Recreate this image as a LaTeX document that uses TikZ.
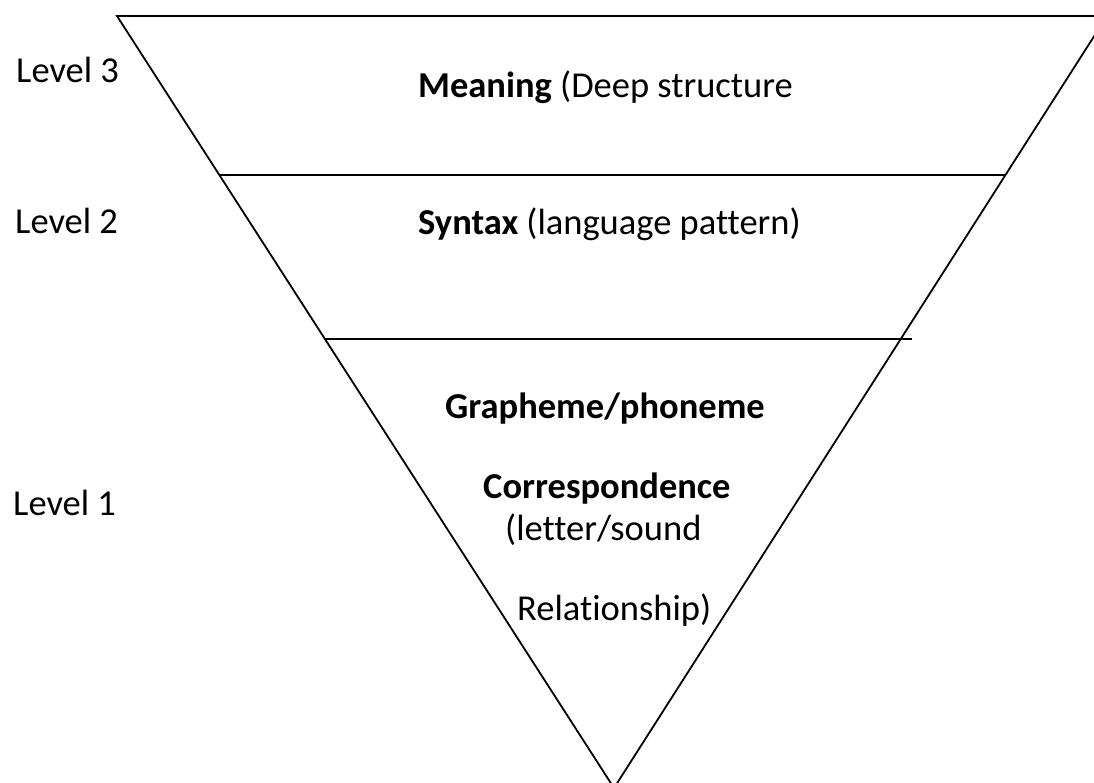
\documentclass[tikz,border=0pt]{standalone}
\usepackage{fontspec}
\setmainfont[Ligatures=NoCommon]{Carlito}
\begin{document}
\begin{tikzpicture}[x=1pt,y=-1pt,
  edge/.style={line width=1.8pt,line cap=round},
  divider/.style={line width=1.5pt},
  lbl/.style={anchor=base west,inner sep=0pt,font=\fontsize{36.5}{40}\selectfont}]
\useasboundingbox (0,0) rectangle (1094,783);
\coordinate (TL) at (117,16);
\coordinate (TR) at (1107,16);
\coordinate (A) at (614,788);
\draw[edge] (1110,16) -- (TL) -- (A) -- (TR);
\coordinate (d1l) at (219.4,175);
\coordinate (d1r) at (1005.5,175);
\coordinate (d2l) at (325,339);
\coordinate (d2r) at (912,339);
\draw[divider] (d1l) -- (d1r);
\draw[divider] (d2l) -- (d2r);
\node[lbl] (l3) at (16,83) {Level 3};
\node[lbl] (l2) at (15,234) {Level 2};
\node[lbl] (l1) at (13,515) {Level 1};
\node[lbl] (m) at (418,98) {\textbf{Meaning} (Deep structure};
\node[lbl] (s) at (418,235) {\textbf{Syntax} (language pattern)};
\node[lbl] (g) at (445,418) {\textbf{Grapheme/phoneme}};
\node[lbl] (c) at (483,498) {\textbf{Correspondence}};
\node[lbl] (ls) at (505,540) {(letter/sound};
\node[lbl] (r) at (517,620) {Relationship)};
\end{tikzpicture}
\end{document}
